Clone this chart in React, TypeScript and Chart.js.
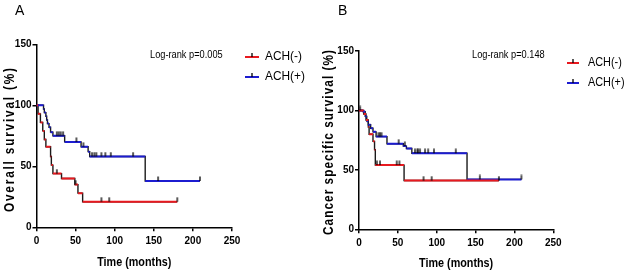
import React, { useEffect, useRef } from "react";
import { Chart, registerables } from "chart.js";

Chart.register(...registerables);

// ---------------- DATA ----------------
// Panel A: Overall survival
const timeA_neg = [0, 2, 5, 8, 10, 12, 18, 19, 21, 32, 49, 53, 59, 180];
const survA_neg = [100, 93, 86, 79, 72, 66, 58, 51, 44, 40, 35, 28, 21, 21];
const censorTimeA_neg = [26, 50, 83, 93, 180];
const censorSurvA_neg = [44, 35, 21, 21, 21];

const timeA_pos = [0, 9, 10, 12, 13, 14, 16, 18, 21, 36, 57, 66, 68, 139, 209];
const survA_pos = [100, 97, 94, 91, 88, 85, 82, 78, 75, 70, 66, 62, 58, 38, 38];
const censorTimeA_pos = [26, 28.5, 31, 34, 51, 60, 71, 74, 76.5, 83, 88, 95, 123.5, 155.5, 209];
const censorSurvA_pos = [75, 75, 75, 75, 70, 66, 58, 58, 58, 58, 58, 58, 58, 38, 38];

// Panel B: Cancer specific survival
const timeB_neg = [0, 6, 9, 12, 13, 18, 20, 21, 58, 180];
const survB_neg = [100, 97, 92, 86, 80, 74, 67, 54, 41, 41];
const censorTimeB_neg = [23, 27, 48.5, 52, 83, 93.5, 180];
const censorSurvB_neg = [54, 54, 54, 54, 41, 41, 41];

const timeB_pos = [0, 5, 8, 10, 12, 15, 18, 22, 36, 57, 61, 68, 139, 209];
const survB_pos = [100, 99, 95, 91, 88, 85, 82, 78, 72, 70, 68, 64, 42, 42];
const censorTimeB_pos = [1.5, 25, 27, 29, 51, 59, 72, 75, 76, 78.5, 85, 89, 96.5, 124.5, 155.5, 209];
const censorSurvB_pos = [100, 78, 78, 78, 72, 70, 64, 64, 64, 64, 64, 64, 64, 64, 42, 42];

const xTicks = [0, 50, 100, 150, 200, 250];
const yTicks = [0, 50, 100, 150];
const seriesLabels = ["ACH(-)", "ACH(+)"];
const panelLetters = ["A", "B"];
const yTitles = ["Overall survival (%)", "Cancer specific survival (%)"];
const xTitle = "Time (months)";
const pValueTexts = ["Log-rank p=0.005", "Log-rank p=0.148"];

// ---------------- STYLE / LAYOUT ----------------
const RED = "#e8191f";
const BLUE = "#1c1cd0";
const SANS = "'Liberation Sans', Arial, sans-serif";
const W = 627;
const H = 273;

type Layout = {
  canvasLeft: number;
  canvasWidth: number;
  area: { l: number; r: number; t: number; b: number };
  letter: { x: number; y: number };
  yTitle: { baseX: number; bottom: number; top: number };
  xTitleY: number;
  pText: { x: number; y: number };
  legend: { x1: number; x2: number; tx: number; y: number[]; size: number; sx: number };
};

const layouts: Layout[] = [
  {
    canvasLeft: 0,
    canvasWidth: 313,
    area: { l: 36.5, r: 232, t: 44.3, b: 227.3 },
    letter: { x: 15, y: 15 },
    yTitle: { baseX: 14, bottom: 212, top: 68 },
    xTitleY: 262,
    pText: { x: 150, y: 55 },
    legend: { x1: 245, x2: 259, tx: 265, y: [57, 77], size: 12.5, sx: 0.95 },
  },
  {
    canvasLeft: 313,
    canvasWidth: 314,
    area: { l: 359, r: 553.3, t: 51, b: 229.3 },
    letter: { x: 338, y: 15 },
    yTitle: { baseX: 333, bottom: 235, top: 50 },
    xTitleY: 263,
    pText: { x: 472, y: 55 },
    legend: { x1: 567, x2: 579, tx: 588, y: [63, 83], size: 12.5, sx: 0.87 },
  },
];

const panelData = [
  {
    neg: { t: timeA_neg, s: survA_neg, ct: censorTimeA_neg, cs: censorSurvA_neg },
    pos: { t: timeA_pos, s: survA_pos, ct: censorTimeA_pos, cs: censorSurvA_pos },
  },
  {
    neg: { t: timeB_neg, s: survB_neg, ct: censorTimeB_neg, cs: censorSurvB_neg },
    pos: { t: timeB_pos, s: survB_pos, ct: censorTimeB_pos, cs: censorSurvB_pos },
  },
];

function makeTickImage(): HTMLCanvasElement {
  const c = document.createElement("canvas");
  c.width = 4;
  c.height = 10;
  const g = c.getContext("2d")!;
  g.strokeStyle = "#000";
  g.lineWidth = 1.3;
  g.beginPath();
  g.moveTo(2, 0.5);
  g.lineTo(2, 5);
  g.stroke();
  return c;
}

const stepPts = (t: number[], s: number[]) => t.map((x, i) => ({ x, y: s[i] }));
const horizPts = (t: number[], s: number[]) => {
  const out: { x: number; y: number | null }[] = [];
  for (let i = 0; i < t.length - 1; i++) {
    out.push({ x: t[i], y: s[i] }, { x: t[i + 1], y: s[i] }, { x: t[i + 1], y: null });
  }
  return out;
};
const censorPts = (t: number[], s: number[]) => t.map((x, i) => ({ x, y: s[i] }));

function drawScaledText(
  ctx: CanvasRenderingContext2D,
  text: string,
  x: number,
  y: number,
  font: string,
  sx: number,
  align: CanvasTextAlign,
  baseline: CanvasTextBaseline
) {
  ctx.save();
  ctx.translate(x, y);
  ctx.scale(sx, 1);
  ctx.font = font;
  ctx.textAlign = align;
  ctx.textBaseline = baseline;
  ctx.fillText(text, 0, 0);
  ctx.restore();
}

function Panel({ idx }: { idx: number }) {
  const ref = useRef<HTMLCanvasElement | null>(null);
  useEffect(() => {
    const canvas = ref.current;
    if (!canvas) return;
    const L = layouts[idx];
    const D = panelData[idx];
    const tickImg = makeTickImage();
    const off = L.canvasLeft;

    const annotPlugin = {
      id: "annot" + idx,
      afterDraw(chart: any) {
        const ctx: CanvasRenderingContext2D = chart.ctx;
        const ca = chart.chartArea;
        ctx.save();
        ctx.fillStyle = "#000";
        // panel letter
        drawScaledText(ctx, panelLetters[idx], L.letter.x - off, L.letter.y, `14px ${SANS}`, 1, "left", "alphabetic");
        // x title (condensed bold)
        drawScaledText(ctx, xTitle, (ca.left + ca.right) / 2, L.xTitleY, `bold 13px ${SANS}`, 0.83, "center", "middle");
        // y title (condensed bold, letter-spaced, rotated)
        const yt = yTitles[idx];
        const sx = 0.84;
        ctx.save();
        ctx.font = `bold 14px ${SANS}`;
        (ctx as any).letterSpacing = "0px";
        const w0 = ctx.measureText(yt).width;
        const target = (L.yTitle.bottom - L.yTitle.top) / sx;
        const ls = (target - w0) / (yt.length - 1);
        (ctx as any).letterSpacing = `${ls}px`;
        ctx.translate(L.yTitle.baseX - off, L.yTitle.bottom);
        ctx.rotate(-Math.PI / 2);
        ctx.scale(sx, 1);
        ctx.textAlign = "left";
        ctx.textBaseline = "alphabetic";
        ctx.fillText(yt, 0, 0);
        (ctx as any).letterSpacing = "0px";
        ctx.restore();
        // p-value
        drawScaledText(ctx, pValueTexts[idx], L.pText.x - off, L.pText.y, `11px ${SANS}`, 0.84, "left", "middle");
        // legend
        const cols = [RED, BLUE];
        for (let i = 0; i < 2; i++) {
          const y = L.legend.y[i];
          ctx.strokeStyle = cols[i];
          ctx.lineWidth = 2;
          ctx.beginPath();
          ctx.moveTo(L.legend.x1 - off, y);
          ctx.lineTo(L.legend.x2 - off, y);
          ctx.stroke();
          const mx = (L.legend.x1 + L.legend.x2) / 2 - off;
          ctx.strokeStyle = "#000";
          ctx.lineWidth = 1.3;
          ctx.beginPath();
          ctx.moveTo(mx, y - 4);
          ctx.lineTo(mx, y);
          ctx.stroke();
          drawScaledText(ctx, seriesLabels[i], L.legend.tx - off, y, `${L.legend.size}px ${SANS}`, L.legend.sx, "left", "middle");
        }
        ctx.restore();
      },
    };

    const axisCommon = {
      type: "linear" as const,
      grid: {
        display: true,
        drawOnChartArea: false,
        drawTicks: true,
        tickLength: 4,
        color: "#000",
        lineWidth: 1.5,
      },
      border: { display: true, color: "#000", width: 1.5 },
    };

    const chart = new Chart(canvas, {
      type: "line",
      data: {
        datasets: [
          {
            label: seriesLabels[0] + " censored",
            data: censorPts(D.neg.ct, D.neg.cs),
            showLine: false,
            pointStyle: tickImg as any,
            pointRadius: 4,
          },
          {
            label: seriesLabels[1] + " censored",
            data: censorPts(D.pos.ct, D.pos.cs),
            showLine: false,
            pointStyle: tickImg as any,
            pointRadius: 4,
          },
          {
            label: seriesLabels[0],
            data: horizPts(D.neg.t, D.neg.s) as any,
            borderColor: RED,
            borderWidth: 2,
            pointRadius: 0,
            spanGaps: false,
            fill: false,
            tension: 0,
            borderCapStyle: "butt",
          },
          {
            label: seriesLabels[1],
            data: horizPts(D.pos.t, D.pos.s) as any,
            borderColor: BLUE,
            borderWidth: 2,
            pointRadius: 0,
            spanGaps: false,
            fill: false,
            tension: 0,
            borderCapStyle: "butt",
          },
          {
            label: seriesLabels[0] + " steps",
            data: stepPts(D.neg.t, D.neg.s),
            borderColor: "#1a1a1a",
            borderWidth: 1.4,
            pointRadius: 0,
            stepped: "before",
            fill: false,
          },
          {
            label: seriesLabels[1] + " steps",
            data: stepPts(D.pos.t, D.pos.s),
            borderColor: "#1a1a1a",
            borderWidth: 1.4,
            pointRadius: 0,
            stepped: "before",
            fill: false,
          },
        ],
      },
      options: {
        responsive: false,
        animation: false,
        events: [],
        layout: {
          padding: {
            left: 0,
            top: L.area.t,
            right: L.canvasLeft + L.canvasWidth - L.area.r,
            bottom: 0,
          },
        },
        plugins: { legend: { display: false }, tooltip: { enabled: false } },
        scales: {
          x: {
            ...axisCommon,
            min: xTicks[0],
            max: xTicks[xTicks.length - 1],
            afterBuildTicks: (s: any) => {
              s.ticks = xTicks.map((v) => ({ value: v }));
            },
            afterFit: (s: any) => {
              s.height = H - L.area.b;
            },
            ticks: {
              color: "#000",
              font: { family: SANS, size: 10, weight: "bold" },
              padding: 4,
              maxRotation: 0,
              autoSkip: false,
            },
            title: { display: false },
          },
          y: {
            ...axisCommon,
            min: yTicks[0],
            max: yTicks[yTicks.length - 1],
            afterBuildTicks: (s: any) => {
              s.ticks = yTicks.map((v) => ({ value: v }));
            },
            afterFit: (s: any) => {
              s.width = L.area.l - L.canvasLeft;
            },
            ticks: {
              color: "#000",
              font: { family: SANS, size: 10, weight: "bold" },
              padding: 1,
              autoSkip: false,
            },
          },
        },
      } as any,
      plugins: [annotPlugin],
    });
    return () => chart.destroy();
  }, [idx]);

  const L = layouts[idx];
  return (
    <canvas
      ref={ref}
      width={L.canvasWidth}
      height={H}
      style={{ position: "absolute", left: L.canvasLeft, top: 0, width: L.canvasWidth, height: H }}
    />
  );
}

export default function App() {
  return (
    <div style={{ position: "fixed", left: 0, top: 0, width: W, height: H, background: "#fff", overflow: "hidden" }}>
      <Panel idx={0} />
      <Panel idx={1} />
    </div>
  );
}
